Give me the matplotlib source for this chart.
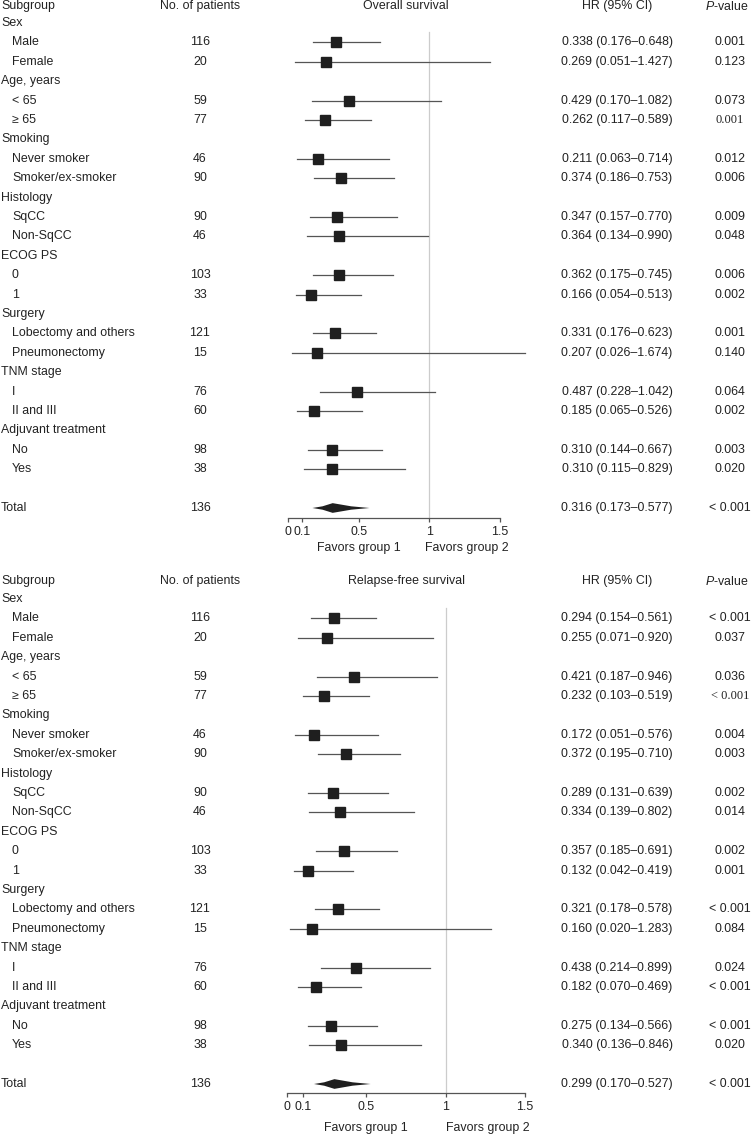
import numpy as np
import matplotlib
matplotlib.use('Agg')
import matplotlib.pyplot as plt
from matplotlib.transforms import blended_transform_factory

plt.rcParams['font.family'] = ['Liberation Sans', 'DejaVu Sans']
plt.rcParams['font.size'] = 8.9
plt.rcParams['mathtext.fontset'] = 'custom'
plt.rcParams['mathtext.it'] = 'Liberation Sans:italic'
plt.rcParams['mathtext.rm'] = 'Liberation Sans'

# ===== データ =====
groups = ['Sex', 'Age, years', 'Smoking', 'Histology', 'ECOG PS', 'Surgery', 'TNM stage', 'Adjuvant treatment']
subgroups = ['Male', 'Female', '< 65', '\u2265 65', 'Never smoker', 'Smoker/ex-smoker',
             'SqCC', 'Non-SqCC', '0', '1', 'Lobectomy and others', 'Pneumonectomy',
             'I', 'II and III', 'No', 'Yes']
n_patients = [116, 20, 59, 77, 46, 90, 90, 46, 103, 33, 121, 15, 76, 60, 98, 38]
n_total = 136

# Overall survival
os_hr = [0.338, 0.269, 0.429, 0.262, 0.211, 0.374, 0.347, 0.364, 0.362, 0.166, 0.331, 0.207, 0.487, 0.185, 0.310, 0.310]
os_lo = [0.176, 0.051, 0.170, 0.117, 0.063, 0.186, 0.157, 0.134, 0.175, 0.054, 0.176, 0.026, 0.228, 0.065, 0.144, 0.115]
os_hi = [0.648, 1.427, 1.082, 0.589, 0.714, 0.753, 0.770, 0.990, 0.745, 0.513, 0.623, 1.674, 1.042, 0.526, 0.667, 0.829]
os_p = ['0.001', '0.123', '0.073', '0.001', '0.012', '0.006', '0.009', '0.048', '0.006', '0.002', '0.001', '0.140', '0.064', '0.002', '0.003', '0.020']
os_total = (0.316, 0.173, 0.577, '< 0.001')

# Relapse-free survival
rfs_hr = [0.294, 0.255, 0.421, 0.232, 0.172, 0.372, 0.289, 0.334, 0.357, 0.132, 0.321, 0.160, 0.438, 0.182, 0.275, 0.340]
rfs_lo = [0.154, 0.071, 0.187, 0.103, 0.051, 0.195, 0.131, 0.139, 0.185, 0.042, 0.178, 0.020, 0.214, 0.070, 0.134, 0.136]
rfs_hi = [0.561, 0.920, 0.946, 0.519, 0.576, 0.710, 0.639, 0.802, 0.691, 0.419, 0.578, 1.283, 0.899, 0.469, 0.566, 0.846]
rfs_p = ['< 0.001', '0.037', '0.036', '< 0.001', '0.004', '0.003', '0.002', '0.014', '0.002', '0.001', '< 0.001', '0.084', '0.024', '< 0.001', '< 0.001', '0.020']
rfs_total = (0.299, 0.170, 0.527, '< 0.001')

serif_rows = [3]  # ≥65 の P値だけ元図で明朝体

ticks = [0, 0.1, 0.5, 1, 1.5]
tick_labels = ['0', '0.1', '0.5', '1', '1.5']

W, H = 753, 1134
TXT = '#222222'
X_P = 730  # P値の列（中央）

fig = plt.figure(figsize=(W / 100, H / 100), dpi=100)


def panel(title, hr, lo, hi, pv, total, x0, x15, y_head, y_first, y_axis, fav_off):
    step = 19.4
    ax = fig.add_axes([x0 / W, 1 - y_axis / H, (x15 - x0) / W, (y_axis - y_head) / H])
    i_axis = (y_axis - y_first) / step
    i_head = (y_head - y_first) / step
    ax.set_xlim(0, 1.5)
    ax.set_ylim(i_axis, i_head)
    for s in ['top', 'right', 'left']:
        ax.spines[s].set_visible(False)
    ax.spines['bottom'].set_color('#555555')
    ax.spines['bottom'].set_linewidth(0.9)
    ax.set_yticks([])
    ax.set_xticks(ticks)
    ax.set_xticklabels(tick_labels)
    ax.tick_params(axis='x', length=3, width=0.9, color='#555555', pad=2.5, labelcolor=TXT)
    ax.patch.set_visible(False)

    tr = blended_transform_factory(fig.transFigure, ax.transData)

    def t(x, y, s, ha='left', **kw):
        ax.text(x / W, y, s, transform=tr, ha=ha, va='center', color=TXT, **kw)

    # ヘッダー
    t(1, i_head, 'Subgroup')
    t(200, i_head, 'No. of patients', ha='center')
    t(406, i_head, title, ha='center')
    t(617, i_head, 'HR (95% CI)', ha='center')
    t(X_P - 3, i_head, '$P$-value', ha='center')

    # 基準線
    ax.plot([1, 1], [0.46, i_axis], color='#cccccc', lw=0.9, zorder=1)

    row = 0
    k = 0
    for g in groups:
        t(1, row, g)
        row += 1
        for _ in range(2):
            t(12, row, subgroups[k])
            t(200, row, str(n_patients[k]), ha='center')
            t(617, row, f'{hr[k]:.3f} ({lo[k]:.3f}\u2013{hi[k]:.3f})', ha='center')
            if k in serif_rows:
                t(X_P, row, pv[k], ha='center', family='Liberation Serif')
            else:
                t(X_P, row, pv[k], ha='center')
            ax.plot([lo[k], hi[k]], [row, row], color='#555555', lw=0.9, clip_on=False, zorder=2)
            ax.plot(hr[k], row, marker='s', ms=7.4, color='#1f1f1f', clip_on=False, zorder=3)
            row += 1
            k += 1
    row += 1
    # Total
    thr, tlo, thi, tp = total
    t(1, row, 'Total')
    t(200, row, str(n_total), ha='center')
    t(617, row, f'{thr:.3f} ({tlo:.3f}\u2013{thi:.3f})', ha='center')
    t(X_P, row, tp, ha='center')
    h = 0.25
    xs = [tlo, thr - 0.5 * (thr - tlo), thr, thr + 0.5 * (thi - thr), thi,
          thr + 0.5 * (thi - thr), thr, thr - 0.5 * (thr - tlo)]
    ys = [row, row - 0.35 * h, row - h, row - 0.35 * h, row,
          row + 0.35 * h, row + h, row + 0.35 * h]
    ax.fill(xs, ys, color='#1f1f1f', lw=0, zorder=3)

    ax.text(0.5, i_axis + fav_off / step, 'Favors group 1',
            ha='center', va='center', color=TXT)
    ax.text(1.265, i_axis + fav_off / step, 'Favors group 2',
            ha='center', va='center', color=TXT)
    return ax


panel('Overall survival', os_hr, os_lo, os_hi, os_p, os_total,
      288, 500, 6, 23, 518, 30)
panel('Relapse-free survival', rfs_hr, rfs_lo, rfs_hi, rfs_p, rfs_total,
      287, 525, 581, 599, 1093, 35)

fig.savefig('out.png', dpi=100)
